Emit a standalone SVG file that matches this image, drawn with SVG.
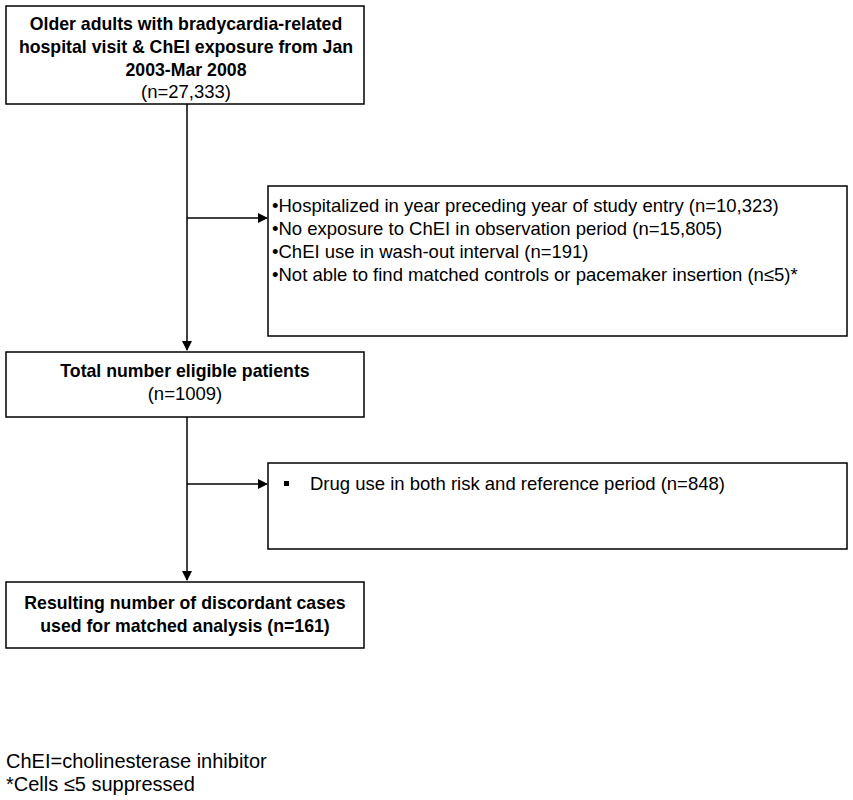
<svg xmlns="http://www.w3.org/2000/svg" width="853" height="800" viewBox="0 0 853 800">
<style>
rect{fill:#fff;stroke:#000;stroke-width:1.5}
text{font-family:"Liberation Sans",Arial,sans-serif;font-size:18.5px;fill:#000}
.b{font-weight:bold;font-size:17.7px}
.c{text-anchor:middle}
.f{font-size:20px}
line{stroke:#000;stroke-width:1.5}
</style>
<defs><marker id="a" markerWidth="10" markerHeight="10" refX="9" refY="5" orient="auto" markerUnits="userSpaceOnUse"><path d="M0,0 L10,5 L0,10 z" fill="#000"/></marker></defs>
<rect width="853" height="800" style="fill:#fff;stroke:none"/>
<g id="connectors">
<line x1="187" y1="104" x2="187" y2="350" marker-end="url(#a)"/>
<line x1="187" y1="218" x2="267" y2="218" marker-end="url(#a)"/>
<line x1="187" y1="417" x2="187" y2="580" marker-end="url(#a)"/>
<line x1="187" y1="484" x2="267" y2="484" marker-end="url(#a)"/>
</g>
<g id="n1"><rect x="6" y="6" width="358" height="98"/>
<text class="b c" x="186" y="30">Older adults with bradycardia-related</text>
<text class="b c" x="186" y="53">hospital visit &amp; ChEI exposure from Jan</text>
<text class="b c" x="186" y="76">2003-Mar 2008</text>
<text class="c" x="186" y="98">(n=27,333)</text></g>
<g id="n2"><rect x="268" y="186" width="579" height="150"/>
<text x="272" y="212">•Hospitalized in year preceding year of study entry (n=10,323)</text>
<text x="272" y="235">•No exposure to ChEI in observation period (n=15,805)</text>
<text x="272" y="258">•ChEI use in wash-out interval (n=191)</text>
<text x="272" y="281">•Not able to find matched controls or pacemaker insertion (n≤5)*</text></g>
<g id="n3"><rect x="6" y="352" width="358" height="65"/>
<text class="b c" x="185" y="377">Total number eligible patients</text>
<text class="c" x="185" y="400">(n=1009)</text></g>
<g id="n4"><rect x="268" y="463" width="579" height="86"/>
<rect x="284" y="481" width="5" height="5" style="fill:#000;stroke:none"/>
<text x="310" y="490">Drug use in both risk and reference period (n=848)</text></g>
<g id="n5"><rect x="6" y="582" width="358" height="66"/>
<text class="b c" x="185" y="609">Resulting number of discordant cases</text>
<text class="b c" x="185" y="632">used for matched analysis (n=161)</text></g>
<text class="f" x="6" y="768">ChEI=cholinesterase inhibitor</text>
<text class="f" x="6" y="791">*Cells ≤5 suppressed</text>
</svg>
